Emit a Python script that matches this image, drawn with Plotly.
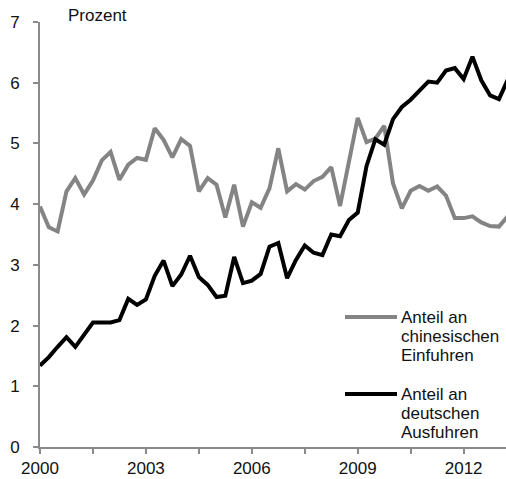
import plotly.graph_objects as go

# Quarterly observations, 2000 Q1 .. 2013 Q2
quarters = [2000 + 0.25 * i for i in range(54)]

china_imports_share = [
    3.96, 3.62, 3.55, 4.21, 4.43, 4.16, 4.39, 4.72, 4.86, 4.40,
    4.65, 4.76, 4.73, 5.25, 5.06, 4.77, 5.07, 4.96, 4.21, 4.43,
    4.32, 3.78, 4.32, 3.63, 4.03, 3.94, 4.26, 4.92, 4.21, 4.33,
    4.24, 4.38, 4.45, 4.61, 3.97, 4.72, 5.42, 5.02, 5.08, 5.29,
    4.34, 3.93, 4.22, 4.30, 4.22, 4.29, 4.14, 3.77, 3.77, 3.80,
    3.70, 3.64, 3.63, 3.80,
]

german_exports_share = [
    1.34, 1.48, 1.65, 1.81, 1.65, 1.85, 2.05, 2.05, 2.05, 2.09,
    2.44, 2.34, 2.43, 2.82, 3.07, 2.65, 2.84, 3.15, 2.80, 2.67,
    2.47, 2.49, 3.13, 2.70, 2.74, 2.85, 3.30, 3.36, 2.78, 3.08,
    3.32, 3.20, 3.16, 3.50, 3.47, 3.74, 3.86, 4.63, 5.07, 4.98,
    5.40, 5.60, 5.72, 5.87, 6.02, 6.00, 6.20, 6.24, 6.06, 6.43,
    6.04, 5.79, 5.73, 6.05,
]

x_tickvals = [2000, 2001.5, 2003, 2004.5, 2006, 2007.5, 2009, 2010.5, 2012]
x_ticktext = ["2000", "", "2003", "", "2006", "", "2009", "", "2012"]
y_tickvals = [0, 1, 2, 3, 4, 5, 6, 7]

legend_gray = ["Anteil an", "chinesischen", "Einfuhren"]
legend_black = ["Anteil an", "deutschen", "Ausfuhren"]

GRAY = "#848484"
BLACK = "#000000"
AXIS = "#8a8a8a"
TEXT = "#111111"
FONT = "Liberation Sans, Arial, sans-serif"
FS = 17

W, H = 506, 479
L, R, T, B = 40, 0, 22, 32
PW, PH = W - L - R, H - T - B


def px_x(px):
    return (px - L) / PW


def px_y(py):
    return (H - B - py) / PH


fig = go.Figure()
fig.add_trace(go.Scatter(x=quarters, y=china_imports_share, mode="lines",
                         line=dict(color=GRAY, width=4), name="gray",
                         showlegend=False))
fig.add_trace(go.Scatter(x=quarters, y=german_exports_share, mode="lines",
                         line=dict(color=BLACK, width=4), name="black",
                         showlegend=False))

annotations = [
    dict(text="Prozent", xref="paper", yref="paper", x=px_x(66), y=px_y(15),
         xanchor="left", yanchor="middle", showarrow=False,
         font=dict(family=FONT, size=FS, color=TEXT)),
]
shapes = []
for lines, color, y0 in ((legend_gray, GRAY, 317), (legend_black, BLACK, 394)):
    shapes.append(dict(type="line", xref="paper", yref="paper",
                       x0=px_x(345), x1=px_x(397), y0=px_y(y0), y1=px_y(y0),
                       line=dict(color=color, width=4)))
    for k, t in enumerate(lines):
        annotations.append(dict(text=t, xref="paper", yref="paper",
                                x=px_x(399), y=px_y(y0 + 19.3 * k),
                                xanchor="left", yanchor="middle",
                                showarrow=False,
                                font=dict(family=FONT, size=FS, color=TEXT)))

fig.update_layout(
    width=W, height=H,
    margin=dict(l=L, r=R, t=T, b=B, pad=0, autoexpand=False),
    paper_bgcolor="white", plot_bgcolor="white",
    font=dict(family=FONT, size=FS, color=TEXT),
    annotations=annotations, shapes=shapes,
    xaxis=dict(range=[2000, 2013.2], tickvals=x_tickvals, ticktext=x_ticktext,
               showline=True, linecolor=AXIS, linewidth=2,
               ticks="outside", ticklen=5, tickwidth=2, tickcolor=AXIS,
               showgrid=False, zeroline=False, automargin=False,
               tickfont=dict(family=FONT, size=FS, color=TEXT)),
    yaxis=dict(range=[0, 7], tickvals=y_tickvals,
               showline=True, linecolor=AXIS, linewidth=2,
               ticks="outside", ticklen=5, tickwidth=2, tickcolor=AXIS,
               showgrid=False, zeroline=False, ticklabelstandoff=10,
               automargin=False,
               tickfont=dict(family=FONT, size=FS, color=TEXT)),
)

fig.write_html(
    "out.html",
    config={"displayModeBar": False},
    post_script="document.body.style.margin='0';document.body.style.overflow='hidden';",
)
